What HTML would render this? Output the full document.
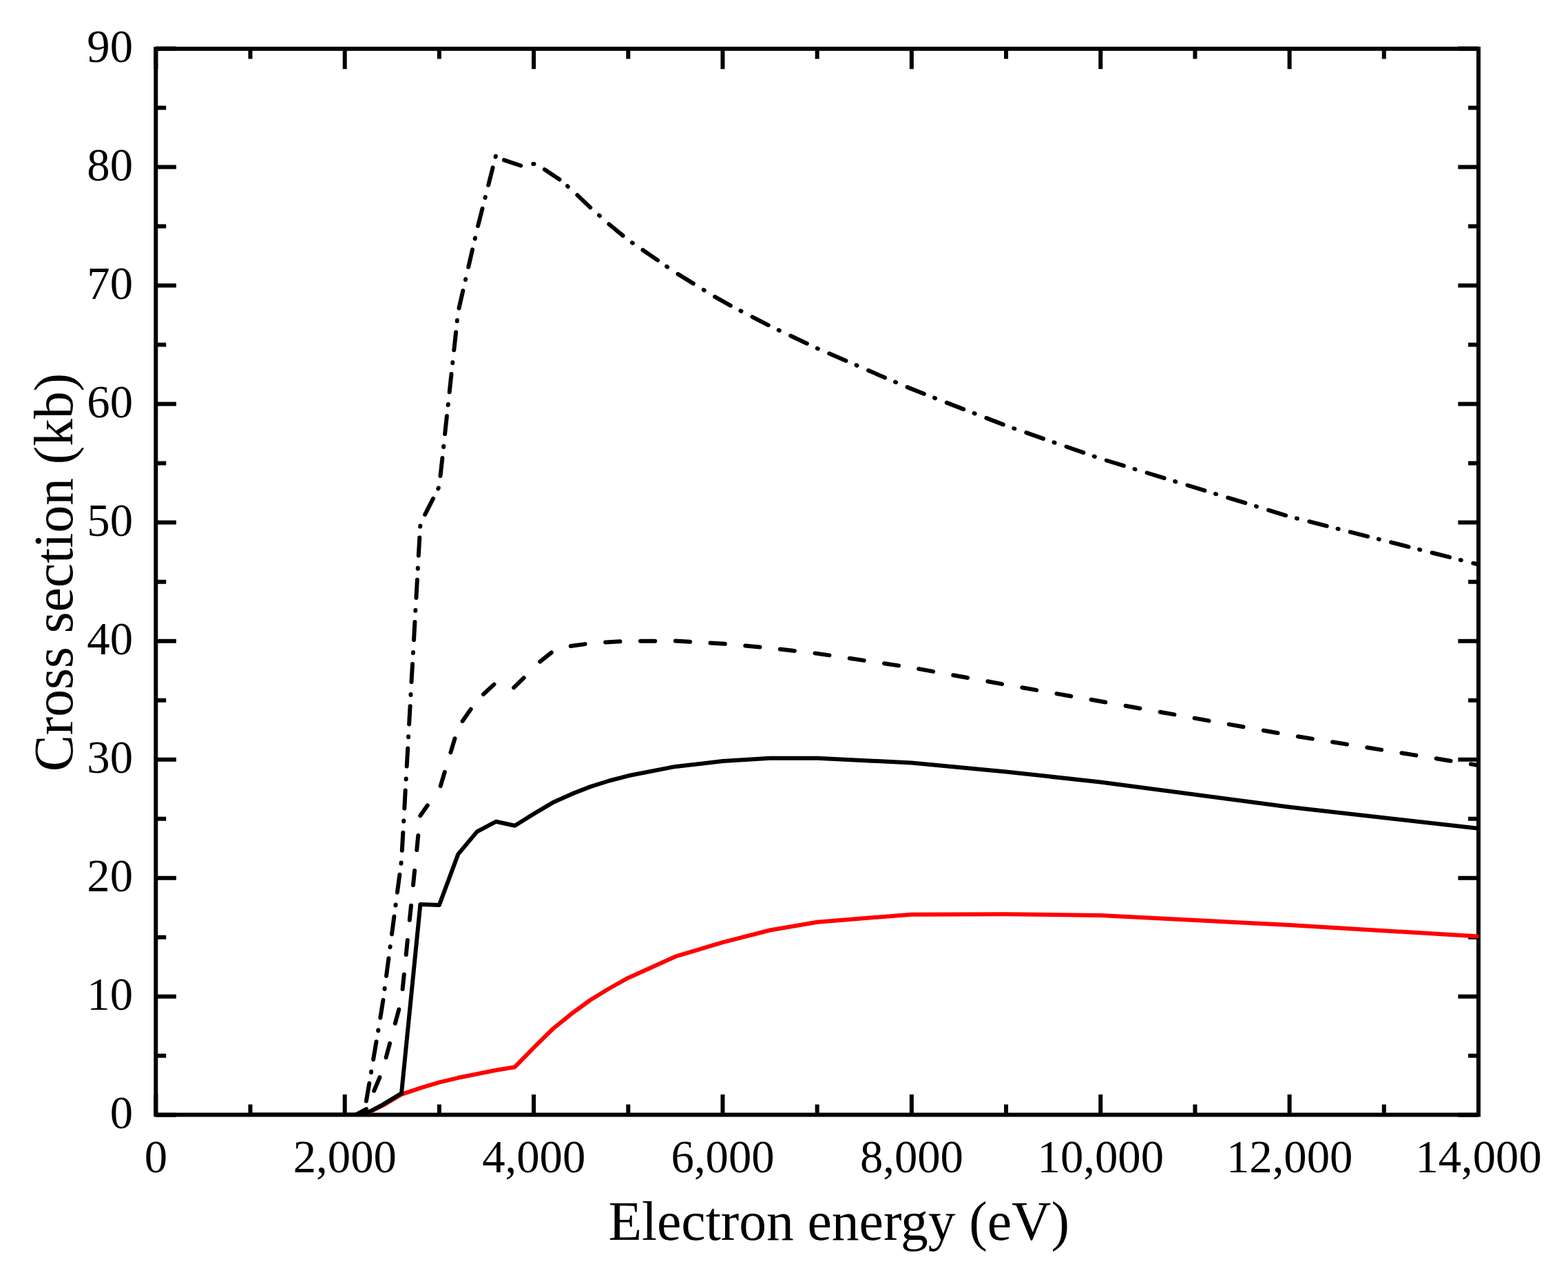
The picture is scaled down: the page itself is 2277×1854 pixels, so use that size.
<!DOCTYPE html>
<html lang="en">
<head>
<meta charset="utf-8">
<title>Cross section vs electron energy</title>
<style>
html,body{margin:0;padding:0;background:#fff;}
body{width:2277px;height:1854px;overflow:hidden;}
svg{display:block;}
text{font-family:"Liberation Serif","DejaVu Serif",serif;fill:#000;}
.t{font-size:66.7px;}
.l{font-size:79.5px;}
.ax{stroke:#000;stroke-width:6.0;fill:none;stroke-linecap:butt;}
.s{fill:none;stroke-width:6.0;stroke-linejoin:round;stroke-linecap:butt;}
.d{fill:none;stroke:#000;stroke-width:6.0;stroke-linecap:round;stroke-linejoin:round;}
</style>
</head>
<body>
<svg xmlns="http://www.w3.org/2000/svg" width="2277" height="1854" viewBox="0 0 2277 1854">
<rect x="0" y="0" width="2277" height="1854" fill="#fff"/>

<path class="ax" d="M226.30,1618.5v-29.6M226.30,70.6v29.6M363.49,1618.5v-14.9M363.49,70.6v14.9M500.69,1618.5v-29.6M500.69,70.6v29.6M637.88,1618.5v-14.9M637.88,70.6v14.9M775.07,1618.5v-29.6M775.07,70.6v29.6M912.26,1618.5v-14.9M912.26,70.6v14.9M1049.46,1618.5v-29.6M1049.46,70.6v29.6M1186.65,1618.5v-14.9M1186.65,70.6v14.9M1323.84,1618.5v-29.6M1323.84,70.6v29.6M1461.04,1618.5v-14.9M1461.04,70.6v14.9M1598.23,1618.5v-29.6M1598.23,70.6v29.6M1735.42,1618.5v-14.9M1735.42,70.6v14.9M1872.61,1618.5v-29.6M1872.61,70.6v29.6M2009.81,1618.5v-14.9M2009.81,70.6v14.9M2147.00,1618.5v-29.6M2147.00,70.6v29.6M226.3,1618.80h29.6M2147.0,1618.80h-29.6M226.3,1532.78h14.9M2147.0,1532.78h-14.9M226.3,1446.76h29.6M2147.0,1446.76h-29.6M226.3,1360.75h14.9M2147.0,1360.75h-14.9M226.3,1274.73h29.6M2147.0,1274.73h-29.6M226.3,1188.71h14.9M2147.0,1188.71h-14.9M226.3,1102.69h29.6M2147.0,1102.69h-29.6M226.3,1016.68h14.9M2147.0,1016.68h-14.9M226.3,930.66h29.6M2147.0,930.66h-29.6M226.3,844.64h14.9M2147.0,844.64h-14.9M226.3,758.62h29.6M2147.0,758.62h-29.6M226.3,672.60h14.9M2147.0,672.60h-14.9M226.3,586.59h29.6M2147.0,586.59h-29.6M226.3,500.57h14.9M2147.0,500.57h-14.9M226.3,414.55h29.6M2147.0,414.55h-29.6M226.3,328.53h14.9M2147.0,328.53h-14.9M226.3,242.52h29.6M2147.0,242.52h-29.6M226.3,156.50h14.9M2147.0,156.50h-14.9M226.3,70.48h29.6M2147.0,70.48h-29.6"/>
<rect class="ax" x="226.3" y="70.8" width="1920.70" height="1547.70"/>
<clipPath id="clip"><rect x="226.3" y="70.6" width="1921.90" height="1548.90"/></clipPath>
<g clip-path="url(#clip)">
<path class="s" stroke="#ff0000" stroke-opacity="0.35" d="M363.5,1618.5 L528.1,1618.5"/>
<path class="s" stroke="#ff0000" d="M528.1,1618.5 L555.6,1605.1 L583.0,1588.9 L610.4,1579.6 L637.9,1571.4 L665.3,1564.8 L692.8,1559.2 L720.2,1553.8 L747.6,1549.2 L775.1,1521.0 L802.5,1494.0 L829.9,1471.8 L857.4,1451.8 L884.8,1435.0 L912.3,1419.7 L980.9,1388.7 L1049.5,1368.1 L1118.1,1350.5 L1186.7,1338.7 L1323.8,1327.7 L1461.0,1327.2 L1598.2,1329.0 L1872.6,1343.0 L2147.0,1359.5"/>
<path class="d" d="M528.7,1617.3L528.9,1616.2M531.9,1598.6L536.3,1572.7M539.0,1556.9L539.1,1555.8M542.1,1538.2L546.5,1512.3M549.2,1496.5L549.3,1495.4M552.3,1477.8L556.4,1451.9M558.5,1435.9L558.7,1434.8M561.0,1417.1L564.4,1391.2M566.5,1375.2L566.7,1374.1M569.0,1356.4L572.4,1330.4M574.5,1314.5L574.6,1313.4M576.9,1295.7L580.4,1269.7M582.5,1253.7L582.6,1252.6M583.8,1234.8L585.3,1208.7M586.2,1192.6L586.3,1191.5M587.3,1173.7L588.7,1147.5M589.6,1131.5L589.7,1130.4M590.7,1112.5L592.2,1086.4M593.1,1070.3L593.1,1069.2M594.1,1051.4L595.6,1025.2M596.5,1009.1L596.5,1008.0M597.5,990.2L599.0,964.1M599.9,948.0L600.0,946.9M601.0,929.1L602.4,902.9M603.3,886.8L603.4,885.7M604.4,867.9L605.9,841.7M606.8,825.7L606.8,824.6M607.8,806.7L609.3,780.6M610.2,764.5L610.3,763.4M617.1,747.2L629.0,723.8M636.3,709.5L636.8,708.5M639.5,691.0L642.4,664.9M644.1,648.9L644.2,647.8M646.1,630.1L648.9,604.0M650.7,588.0L650.8,586.9M652.7,569.2L655.5,543.1M657.2,527.1L657.4,526.0M659.3,508.3L662.1,482.2M663.8,466.2L663.9,465.1M666.5,447.5L672.3,422.0M676.0,406.3L676.2,405.2M680.2,387.8L686.1,362.3M689.7,346.6L690.0,345.5M694.1,328.1L700.5,302.7M704.5,287.1L704.8,286.1M709.2,268.8L715.6,243.4M719.6,227.8L719.9,226.7M731.9,232.4L756.3,240.5M774.3,238.0L775.4,238.1M790.8,246.1L812.5,260.6M824.0,270.2L824.8,271.0M838.3,283.2L857.3,301.3M870.0,312.7L870.9,313.4M884.4,325.5L904.6,342.1M917.9,352.3L918.8,352.9M933.5,363.0L955.1,377.9M968.2,386.9L969.1,387.6M984.5,397.9L1006.8,411.6M1021.8,420.8L1022.7,421.4M1038.1,430.8L1060.8,443.7M1075.4,451.3L1076.4,451.8M1092.5,460.1L1115.7,472.2M1130.7,479.4L1131.7,479.8M1148.1,487.5L1171.8,498.7M1186.8,505.8L1187.8,506.2M1204.3,513.3L1228.4,523.7M1243.5,530.2L1244.5,530.7M1261.0,537.8L1285.0,548.2M1300.0,554.6L1301.0,555.0M1317.5,562.1L1341.8,571.8M1357.0,577.7L1358.0,578.1M1374.8,584.6L1399.2,594.1M1414.6,600.0L1415.6,600.4M1432.4,606.9L1456.8,616.4M1472.3,622.0L1473.3,622.3M1490.3,628.2L1515.0,636.9M1530.5,642.3L1531.6,642.6M1548.5,648.5L1573.3,657.2M1588.7,662.5L1589.8,662.9M1606.8,668.5L1631.9,676.2M1647.5,681.0L1648.5,681.3M1665.6,686.5L1690.7,694.2M1706.2,698.9L1707.2,699.3M1724.4,704.5L1749.4,712.2M1765.0,717.0L1766.1,717.3M1783.2,722.6L1808.3,730.2M1823.9,735.0L1824.9,735.3M1842.1,740.6L1867.1,748.3M1882.9,752.6L1883.9,752.8M1901.3,757.2L1926.7,763.7M1942.5,767.7L1943.6,768.0M1960.8,772.4L1986.2,778.8M2001.8,782.7L2002.8,783.0M2020.1,787.4L2045.5,793.9M2061.1,797.8L2062.2,798.1M2079.6,802.5L2105.0,808.9M2120.8,813.0L2121.9,813.2M2139.3,817.7L2164.7,824.1M2180.6,828.1L2181.7,828.4"/>
<path class="d" d="M514.8,1619.4L532.1,1610.2M543.2,1583.7L551.4,1564.1M560.6,1535.3L566.1,1514.8M573.8,1485.9L579.3,1465.5M584.6,1435.9L586.8,1414.8M589.7,1386.1L591.8,1365.0M594.8,1335.8L597.0,1314.8M600.0,1285.0L602.1,1263.9M605.2,1234.1L607.3,1213.0M610.3,1184.3L620.8,1169.3M639.7,1141.2L645.8,1120.9M654.4,1092.5L660.5,1072.2M671.6,1047.0L683.7,1029.6M701.9,1008.0L717.5,993.6M746.1,998.4L760.7,984.1M784.2,960.6L800.8,947.4M828.7,938.0L849.7,935.1M879.2,932.4L900.4,931.3M930.0,930.8L951.2,930.7M980.9,930.5L1002.0,931.8M1031.6,933.5L1052.8,934.8M1082.3,937.5L1103.4,939.5M1132.9,942.6L1153.9,945.0M1183.4,948.4L1204.4,951.4M1233.7,955.8L1254.7,958.9M1284.0,963.3L1305.0,966.4M1334.2,971.1L1355.1,974.9M1384.2,980.2L1405.1,984.0M1434.3,989.3L1455.1,993.1M1484.3,998.3L1505.2,1001.9M1534.4,1007.1L1555.3,1010.7M1584.5,1015.8L1605.3,1019.5M1634.5,1024.7L1655.4,1028.5M1684.6,1033.7L1705.4,1037.4M1734.6,1042.6L1755.5,1046.4M1784.7,1051.6L1805.5,1055.3M1834.7,1060.5L1855.6,1064.2M1884.8,1069.2L1905.8,1072.6M1935.0,1077.3L1956.0,1080.6M1985.2,1085.3L2006.2,1088.6M2035.4,1093.3L2056.4,1096.6M2085.6,1101.3L2106.6,1104.7M2135.9,1109.4L2156.8,1112.7M2186.1,1117.4L2207.0,1120.7"/>
<path class="s" stroke="#000" d="M363.5,1618.5 L528.1,1618.5 L555.6,1603.9 L583.0,1587.4 L610.4,1312.9 L637.9,1313.9 L665.3,1240.1 L692.8,1207.4 L720.2,1192.8 L747.6,1198.8 L775.1,1181.6 L802.5,1165.3 L829.9,1152.9 L857.4,1142.1 L884.8,1133.5 L912.3,1126.3 L980.9,1112.9 L1049.5,1105.1 L1118.1,1100.8 L1186.7,1100.8 L1323.8,1107.5 L1461.0,1120.4 L1598.2,1135.6 L1872.6,1171.8 L2147.0,1202.8"/>
</g>
<text class="t" x="226.4" y="1701.5" text-anchor="middle">0</text>
<text class="t" x="500.8" y="1701.5" text-anchor="middle">2,000</text>
<text class="t" x="775.2" y="1701.5" text-anchor="middle">4,000</text>
<text class="t" x="1049.6" y="1701.5" text-anchor="middle">6,000</text>
<text class="t" x="1323.9" y="1701.5" text-anchor="middle">8,000</text>
<text class="t" x="1598.3" y="1701.5" text-anchor="middle">10,000</text>
<text class="t" x="1872.7" y="1701.5" text-anchor="middle">12,000</text>
<text class="t" x="2147.1" y="1701.5" text-anchor="middle">14,000</text>
<text class="t" x="193" y="1637.8" text-anchor="end">0</text>
<text class="t" x="193" y="1465.8" text-anchor="end">10</text>
<text class="t" x="193" y="1293.8" text-anchor="end">20</text>
<text class="t" x="193" y="1121.8" text-anchor="end">30</text>
<text class="t" x="193" y="949.8" text-anchor="end">40</text>
<text class="t" x="193" y="777.9" text-anchor="end">50</text>
<text class="t" x="193" y="605.9" text-anchor="end">60</text>
<text class="t" x="193" y="433.9" text-anchor="end">70</text>
<text class="t" x="193" y="261.9" text-anchor="end">80</text>
<text class="t" x="193" y="89.9" text-anchor="end">90</text>
<text class="l" x="1218.2" y="1799.5" text-anchor="middle">Electron energy (eV)</text>
<text class="l" transform="translate(105.3,831) rotate(-90)" text-anchor="middle">Cross section (kb)</text>
</svg>
</body>
</html>
